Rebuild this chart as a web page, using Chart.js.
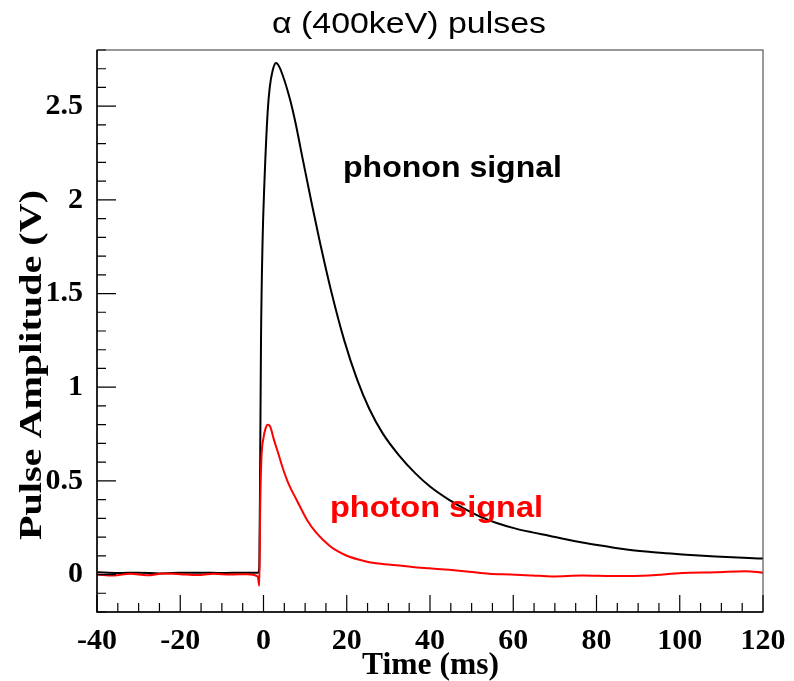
<!DOCTYPE html>
<html>
<head>
<meta charset="utf-8">
<script src="https://cdn.jsdelivr.net/npm/chart.js@4.4.0/dist/chart.umd.min.js"></script>
<style>
html, body { margin: 0; padding: 0; background: #fff; }
</style>
</head>
<body>
<canvas id="pulses" width="794" height="681"></canvas>
<script>
// phonon pulse (black)
var phononTime = [-40, -35, -30, -25, -20, -15, -10, -5, -1.2, -1.0, -0.8, -0.6, -0.2, 0.2, 1.0, 1.5, 2.2, 3.0, 3.8, 5.0,
    6.2, 7.0, 7.8, 9.4, 11.5, 13.4, 16.4, 19.4, 22.5, 25.4, 28.6, 32.6, 36.5, 40, 44.5, 48, 52.5, 56, 60.6,
    64.6, 68.6, 72.6, 76.6, 80.6, 84.6, 88.6, 92.6, 96.6, 100.6, 104.6, 108.6, 112.6, 116.6, 120];
var phononAmp = [0.012, 0.008, 0.010, 0.006, 0.009, 0.010, 0.008, 0.010, 0.010, 0.05, 0.6, 1.25, 1.8, 2.08, 2.47, 2.60, 2.69, 2.73, 2.71, 2.64,
    2.55, 2.48, 2.40, 2.22, 1.99, 1.79, 1.50, 1.25, 1.04, 0.885, 0.755, 0.635, 0.54, 0.47, 0.40, 0.355, 0.305, 0.275, 0.245,
    0.225, 0.207, 0.188, 0.171, 0.156, 0.142, 0.13, 0.121, 0.114, 0.107, 0.101, 0.096, 0.092, 0.088, 0.085];

// photon pulse (red)
var photonTime = [-40, -36, -32, -28, -24, -20, -16, -12, -8, -4, -1.4, -1.0, -0.8, -0.5, 0, 0.5, 1.0, 1.6, 2.5, 3.5,
    4.6, 6.0, 7.8, 8.6, 10.5, 12.6, 15.8, 17.4, 20, 24.6, 27, 31.9, 35.8, 39.8, 44.6, 49.4, 54.2, 59.4, 64.6, 69.4,
    76.6, 83.8, 92.6, 100.6, 108.6, 115.8, 120];
var photonAmp = [0.0, -0.005, 0.004, -0.004, 0.005, 0.002, -0.003, 0.004, 0.0, 0.002, -0.01, -0.06, 0.35, 0.62, 0.73, 0.78, 0.80, 0.79, 0.72, 0.65,
    0.57, 0.485, 0.405, 0.37, 0.29, 0.225, 0.155, 0.13, 0.10, 0.07, 0.06, 0.05, 0.04, 0.033, 0.025, 0.015, 0.004, 0.0, -0.005, -0.01,
    -0.005, -0.008, -0.005, 0.008, 0.012, 0.018, 0.01];

var xTicks = [-40, -20, 0, 20, 40, 60, 80, 100, 120];
var yTicks = [0, 0.5, 1, 1.5, 2, 2.5];
var xMinorStep = 5;
var yMinorStep = 0.1;

function toPoints(xs, ys) {
    var pts = [];
    for (var i = 0; i < xs.length; i++) {
        pts.push({ x: xs[i], y: ys[i] });
    }
    return pts;
}

// draw text stretched to a given width (ROOT fonts are a bit wider)
function drawText(ctx, text, x, y, font, color, width, vertical) {
    ctx.save();
    ctx.font = font;
    ctx.fillStyle = color;
    ctx.textAlign = "left";
    ctx.textBaseline = "alphabetic";
    var w = ctx.measureText(text).width;
    ctx.translate(x, y);
    if (vertical) ctx.rotate(-Math.PI / 2);
    ctx.scale(width / w, 1);
    ctx.fillText(text, 0, 0);
    ctx.restore();
}

var rootFrame = {
    id: "rootFrame",
    afterDatasetsDraw: function (chart) {
        var ctx = chart.ctx;
        var a = chart.chartArea;
        var xs = chart.scales.x;
        var ys = chart.scales.y;
        ctx.save();
        // frame
        ctx.strokeStyle = "#555";
        ctx.lineWidth = 1.2;
        ctx.strokeRect(a.left, a.top, a.right - a.left, a.bottom - a.top);
        ctx.strokeStyle = "#000";
        ctx.lineWidth = 1.5;
        ctx.beginPath();
        ctx.moveTo(a.left, a.top);
        ctx.lineTo(a.left, a.bottom);
        ctx.lineTo(a.right, a.bottom);
        ctx.stroke();
        // inward tick marks
        ctx.lineWidth = 1.2;
        ctx.beginPath();
        for (var t = xs.min; t <= xs.max + 1e-9; t += xMinorStep) {
            var px = xs.getPixelForValue(t);
            var len = xTicks.indexOf(t) >= 0 ? 17 : 9;
            ctx.moveTo(px, a.bottom);
            ctx.lineTo(px, a.bottom - len);
        }
        for (var k = 0; ; k++) {
            var v = Math.round((ys.min + k * yMinorStep) * 10) / 10;
            if (v > ys.max + 1e-9) break;
            var py = ys.getPixelForValue(v);
            var lenY = yTicks.indexOf(v) >= 0 ? 19 : 9;
            ctx.moveTo(a.left, py);
            ctx.lineTo(a.left + lenY, py);
        }
        ctx.stroke();
        ctx.restore();
    },
    afterDraw: function (chart) {
        var ctx = chart.ctx;
        drawText(ctx, "\u03B1 (400keV) pulses", 272, 33, "normal 30px 'Liberation Sans'", "#000", 274, false);
        drawText(ctx, "phonon signal", 343, 177, "bold 30px 'Liberation Sans'", "#000", 219, false);
        drawText(ctx, "photon signal", 330, 517, "bold 30px 'Liberation Sans'", "#ff0000", 213, false);
        drawText(ctx, "Time (ms)", 362, 674, "bold 31px 'Liberation Serif'", "#000", 137, false);
        drawText(ctx, "Pulse Amplitude (V)", 41, 540, "bold 31px 'Liberation Serif'", "#000", 350, true);
    }
};

var tickFont = { family: "'Liberation Serif', serif", weight: "bold", size: 30 };

var chart = new Chart(document.getElementById("pulses"), {
    type: "scatter",
    data: {
        datasets: [
            {
                label: "photon signal",
                data: toPoints(photonTime, photonAmp),
                showLine: true,
                borderColor: "#ff0000",
                borderWidth: 2,
                pointRadius: 0,
                cubicInterpolationMode: "monotone",
                order: 0
            },
            {
                label: "phonon signal",
                data: toPoints(phononTime, phononAmp),
                showLine: true,
                borderColor: "#000000",
                borderWidth: 2,
                pointRadius: 0,
                cubicInterpolationMode: "monotone",
                order: 1
            }
        ]
    },
    options: {
        responsive: false,
        animation: false,
        layout: { padding: { top: 50, right: 31, left: 0, bottom: 0 } },
        plugins: {
            legend: { display: false },
            tooltip: { enabled: false },
            title: { display: false }
        },
        scales: {
            x: {
                type: "linear",
                min: -40,
                max: 120,
                afterBuildTicks: function (s) {
                    s.ticks = xTicks.map(function (v) { return { value: v }; });
                },
                afterFit: function (s) { s.height = 69; },
                grid: { display: false },
                border: { display: false },
                ticks: {
                    font: tickFont, color: "#000", padding: 3, maxRotation: 0, autoSkip: false,
                    callback: function (v) { return String(v); }
                }
            },
            y: {
                type: "linear",
                min: -0.2,
                max: 2.8,
                afterBuildTicks: function (s) {
                    s.ticks = yTicks.map(function (v) { return { value: v }; });
                },
                afterFit: function (s) { s.width = 97; },
                grid: { display: false },
                border: { display: false },
                ticks: {
                    font: tickFont, color: "#000", padding: 6, autoSkip: false,
                    callback: function (v) { return String(v); }
                }
            }
        }
    },
    plugins: [rootFrame]
});
</script>
</body>
</html>
